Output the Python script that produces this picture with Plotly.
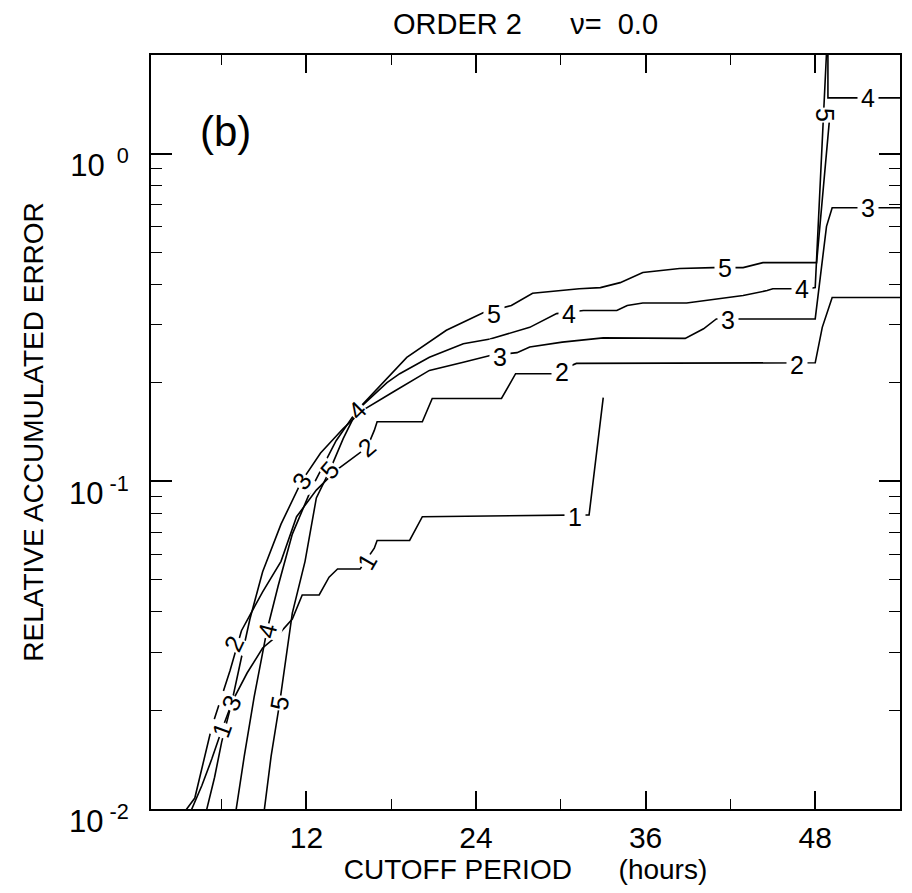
import numpy as np
import plotly.graph_objects as go

# ---- data ----
hours_1 = [3.8, 4.6, 5.3, 6.0, 6.8, 7.8, 8.9, 10.0, 11.0, 11.7, 12.9, 13.6, 14.2, 15.8, 16.8, 17.0, 19.3, 20.2, 32.0, 33.0]
err_1 = [0.0098, 0.0118, 0.0142, 0.0174, 0.0215, 0.026, 0.031, 0.034, 0.038, 0.045, 0.045, 0.051, 0.054, 0.054, 0.0625, 0.066, 0.066, 0.078, 0.079, 0.18]

hours_2 = [3.3, 4.1, 5.3, 6.6, 7.4, 8.0, 8.9, 10.2, 11.3, 12.7, 14.1, 16.3, 16.8, 17.0, 20.2, 20.9, 25.8, 26.8, 29.4, 31.1, 46.0, 48.0, 48.5, 49.2, 54.0]
err_2 = [0.0097, 0.0108, 0.0178, 0.0265, 0.035, 0.039, 0.046, 0.057, 0.078, 0.094, 0.108, 0.127, 0.143, 0.152, 0.152, 0.179, 0.179, 0.213, 0.213, 0.229, 0.229, 0.23, 0.295, 0.364, 0.364]

hours_3 = [4.9, 5.5, 6.0, 6.7, 7.4, 8.0, 8.9, 10.2, 11.65, 13.0, 14.6, 16.0, 18.1, 20.7, 23.1, 25.0, 26.9, 27.8, 30.1, 33.0, 38.8, 40.1, 41.0, 48.0, 48.3, 48.8, 49.2, 54.0]
err_3 = [0.0098, 0.0125, 0.016, 0.021, 0.029, 0.038, 0.053, 0.074, 0.10, 0.122, 0.145, 0.165, 0.187, 0.218, 0.231, 0.242, 0.247, 0.257, 0.266, 0.274, 0.273, 0.292, 0.313, 0.313, 0.40, 0.60, 0.684, 0.684]

hours_4 = [7.0, 7.6, 8.3, 9.2, 10.0, 11.0, 12.4, 14.1, 15.6, 17.7, 18.6, 20.7, 23.1, 25.0, 27.8, 29.7, 31.6, 33.96, 34.7, 35.8, 38.9, 41.8, 42.9, 44.6, 45.0, 47.5, 48.0, 48.9, 48.9, 54.0]
err_4 = [0.0098, 0.0145, 0.022, 0.035, 0.048, 0.069, 0.096, 0.133, 0.165, 0.200, 0.213, 0.239, 0.263, 0.272, 0.295, 0.325, 0.332, 0.332, 0.344, 0.35, 0.35, 0.364, 0.369, 0.382, 0.387, 0.387, 0.39, 2.5, 1.48, 1.48]

hours_5 = [9.0, 9.5, 10.1, 10.5, 11.0, 11.9, 12.7, 13.65, 14.6, 15.6, 17.7, 19.1, 21.9, 24.5, 26.5, 28.0, 31.3, 32.8, 34.2, 35.8, 38.4, 40.8, 42.9, 44.3, 48.1, 49.05]
err_5 = [0.0098, 0.0145, 0.021, 0.028, 0.0396, 0.057, 0.089, 0.108, 0.135, 0.165, 0.207, 0.239, 0.289, 0.327, 0.344, 0.375, 0.387, 0.39, 0.404, 0.434, 0.446, 0.449, 0.449, 0.465, 0.465, 1.33]

curves = [(hours_1, err_1), (hours_2, err_2), (hours_3, err_3), (hours_4, err_4), (hours_5, err_5)]

# inline curve labels: text, hour, value, angle
label_text = ["1", "1", "1", "2", "2", "2", "2", "3", "3", "3", "3", "3", "4", "4", "4", "4", "4", "5", "5", "5", "5", "5"]
label_hour = [31.0, 16.3, 6.0, 6.9, 16.3, 30.1, 46.7, 6.7, 11.65, 25.7, 41.8, 51.7, 9.2, 15.6, 30.6, 47.1, 51.7, 10.1, 13.65, 25.3, 41.6, 48.7]
label_val = [0.078, 0.057, 0.0174, 0.032, 0.127, 0.215, 0.227, 0.021, 0.10, 0.240, 0.31, 0.684, 0.035, 0.165, 0.325, 0.385, 1.48, 0.021, 0.108, 0.325, 0.449, 1.31]
label_angle = [0, -60, -70, -65, -40, 0, 0, -65, -55, 0, 0, 0, -75, -45, 0, 0, 0, -80, -50, 0, 0, 90]

x_ticks = [12, 24, 36, 48]
x_minor = [6, 18, 30, 42]
y_ticks = [0.01, 0.1, 1]
y_ticktext = ["10<sup>\u00a0-2</sup>", "10<sup>\u00a0-1</sup>", "10<sup>\u00a0\u00a00</sup>"]

FONT = "Liberation Sans, Arial, sans-serif"

fig = go.Figure()
for hx, ev in curves:
    fig.add_trace(go.Scatter(x=hx, y=ev, mode="lines",
                             line=dict(color="black", width=1.6),
                             showlegend=False, hoverinfo="skip"))

for t, h, v, a in zip(label_text, label_hour, label_val, label_angle):
    fig.add_annotation(x=h, y=float(np.log10(v)), xref="x", yref="y",
                       text=t, showarrow=False, textangle=a,
                       xanchor="center", yanchor="middle",
                       font=dict(family=FONT, size=25, color="black"),
                       bgcolor="white", borderpad=(3 if a == 0 else 0))

fig.add_annotation(x=0.1, y=0.899, xref="paper", yref="paper", text="(b)",
                   xanchor="center", yanchor="middle",
                   showarrow=False, font=dict(family=FONT, size=42, color="black"))

# y-axis title placed as a rotated annotation
fig.add_annotation(x=-0.158, y=0.5, xref="paper", yref="paper",
                   text="RELATIVE ACCUMULATED ERROR", textangle=-90,
                   xanchor="center", yanchor="middle", showarrow=False,
                   font=dict(family=FONT, size=28, color="black"))

y_minor = [m * 10.0 ** e for e in (-2, -1) for m in range(2, 10)] + [2.0]

fig.update_xaxes(range=[1, 54], tickmode="array", tickvals=x_ticks,
                 ticks="inside", ticklen=18, tickwidth=1.5, tickcolor="black",
                 showline=True, linewidth=2, linecolor="black", mirror="allticks",
                 showgrid=False, zeroline=False,
                 minor=dict(tickmode="array", tickvals=x_minor, ticks="inside",
                            ticklen=10, tickwidth=1.3, tickcolor="black", showgrid=False),
                 tickfont=dict(family=FONT, size=30, color="black"),
                 ticklabelstandoff=1,
                 title=dict(text="CUTOFF PERIOD" + "\u00a0" * 6 + "(hours)",
                            font=dict(family=FONT, size=28, color="black"), standoff=2))

fig.update_yaxes(type="log", range=[-2, float(np.log10(2))], tickmode="array",
                 tickvals=y_ticks, ticktext=y_ticktext,
                 ticks="inside", ticklen=21, tickwidth=1.5, tickcolor="black",
                 showline=True, linewidth=2, linecolor="black", mirror="allticks",
                 showgrid=False, zeroline=False,
                 minor=dict(tickmode="array", tickvals=y_minor, ticks="inside",
                            ticklen=11, tickwidth=1.3, tickcolor="black", showgrid=False),
                 tickfont=dict(family=FONT, size=31, color="black"),
                 ticklabelshift=12, ticklabelstandoff=14)

fig.update_layout(
    width=912, height=893,
    margin=dict(l=151, r=10, t=55, b=84),
    paper_bgcolor="white", plot_bgcolor="white",
    title=dict(text="ORDER 2" + "\u00a0" * 6 + "\u03bd=\u00a0\u00a00.0",
               x=0.5, xref="paper", xanchor="center",
               y=1 - 24 / 893, yref="container", yanchor="middle",
               font=dict(family=FONT, size=29, color="black")),
)

fig.write_html("out.html")
